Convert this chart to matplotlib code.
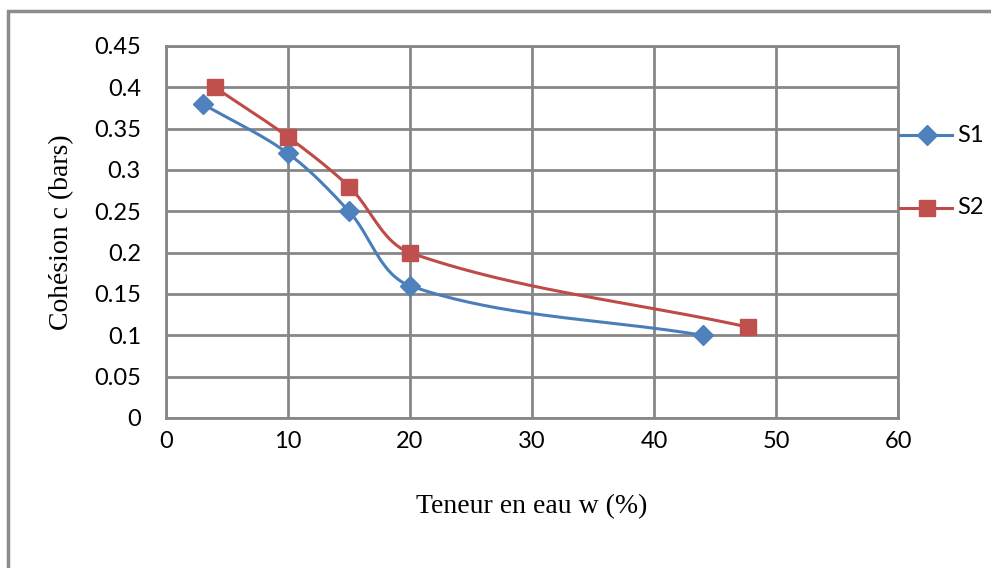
import numpy as np
import matplotlib.pyplot as plt
from matplotlib.patches import Rectangle

# water content (%) and cohesion (bars) for both soils
w_s1 = [3, 10, 15, 20, 44]
c_s1 = [0.38, 0.32, 0.25, 0.16, 0.10]
w_s2 = [4, 10, 15, 20, 47.7]
c_s2 = [0.40, 0.34, 0.28, 0.20, 0.11]

X_MAX = 60
Y_MAX = 0.45
x_ticks = np.arange(0, 61, 10)
y_ticks = np.arange(0, 0.451, 0.05)

BLUE = '#4A7EBB'
RED = '#BE4B48'
GRID = '#878787'


def smooth(xs, ys, sx, sy, n=40, k=0.33):
    # bezier through the points; tangent direction from the neighbours,
    # handle length limited to a share of the segment itself
    pts = np.column_stack([np.array(xs, float) * sx, np.array(ys, float) * sy])
    m = len(pts)
    tang = []
    for i in range(m):
        d = pts[min(i + 1, m - 1)] - pts[max(i - 1, 0)]
        tang.append(d / np.hypot(*d))
    outx, outy = [], []
    for i in range(m - 1):
        p1, p2 = pts[i], pts[i + 1]
        L = np.hypot(*(p2 - p1))
        c1 = p1 + tang[i] * L * k
        c2 = p2 - tang[i + 1] * L * k
        t = np.linspace(0, 1, n)[:, None]
        seg = ((1 - t) ** 3) * p1 + 3 * ((1 - t) ** 2) * t * c1 + 3 * (1 - t) * t ** 2 * c2 + t ** 3 * p2
        outx.extend(seg[:, 0])
        outy.extend(seg[:, 1])
    return np.array(outx) / sx, np.array(outy) / sy


fig = plt.figure(figsize=(9.91, 5.68), dpi=100)
ax = fig.add_axes([166 / 991, 1 - 418 / 568, 732 / 991, 372 / 568])

# scale factors roughly equal to pixels per unit
sx = 732 / X_MAX
sy = 372 / Y_MAX

lx, ly = smooth(w_s1, c_s1, sx, sy)
ax.plot(lx, ly, color=BLUE, lw=2.2, zorder=3)
ax.plot(w_s1, c_s1, ls='none', marker='D', ms=10, color='#4F81BD', zorder=4)
lx, ly = smooth(w_s2, c_s2, sx, sy)
ax.plot(lx, ly, color=RED, lw=2.2, zorder=3)
ax.plot(w_s2, c_s2, ls='none', marker='s', ms=11, color='#C0504D', zorder=4)

ax.set_xlim(0, X_MAX)
ax.set_ylim(0, Y_MAX)
ax.set_xticks(x_ticks)
ax.set_yticks(y_ticks)
ax.set_xticklabels([str(v) for v in x_ticks])
ax.set_yticklabels(['0' if v == 0 else ('%.2f' % v).rstrip('0') for v in y_ticks])
ax.grid(True, color=GRID, lw=2)
ax.set_axisbelow(True)
for s in ax.spines.values():
    s.set_color(GRID)
    s.set_linewidth(2)
ax.tick_params(axis='x', length=0, pad=9, labelsize=17)
ax.tick_params(axis='y', length=0, pad=18, labelsize=17)
for lab in ax.get_xticklabels() + ax.get_yticklabels():
    lab.set_fontfamily('Lato')

ax.set_xlabel('Teneur en eau w (%)', family='Liberation Serif', fontsize=20, labelpad=31)
ax.set_ylabel('Cohésion c (bars)', family='Liberation Serif', fontsize=20, labelpad=14)

# legend drawn at the right of the plot area
legend = [('S1', BLUE, '#4F81BD', 'D', 10, 135), ('S2', RED, '#C0504D', 's', 11, 208)]
for name, lc, mc, mk, ms, ypix in legend:
    yf = 1 - ypix / 568
    fig.add_artist(plt.Line2D([900 / 991, 952 / 991], [yf, yf], color=lc, lw=2.2))
    fig.add_artist(plt.Line2D([927 / 991], [yf], marker=mk, ms=ms, color=mc, ls='none'))
    fig.text(957 / 991, yf, name, va='center', ha='left', fontsize=17, family='Lato')

# outer chart frame
fig.add_artist(Rectangle((8 / 991, -0.1), 1.1, 1 - 11 / 568 + 0.1, fill=False,
                         edgecolor='#8C8C8C', lw=2.5, transform=fig.transFigure))

fig.savefig('out.png', dpi=100)
